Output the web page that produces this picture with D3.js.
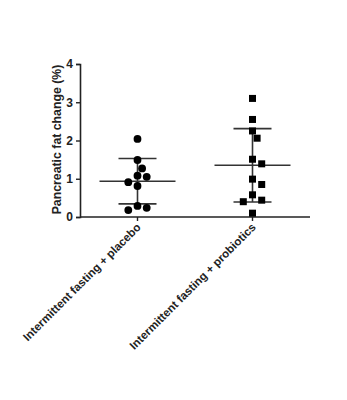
<!DOCTYPE html>
<html>
<head>
<meta charset="utf-8">
<script src="https://cdn.jsdelivr.net/npm/d3@7"></script>
<style>
  body { margin: 0; background: #fff; }
  text { font-family: "Liberation Sans", Arial, sans-serif; }
</style>
</head>
<body>
<div id="chart-area"></div>
<script>
/*
*   dot plot, mean +/- SD
*/
let categories = ["Intermittent fasting + placebo", "Intermittent fasting + probiotics"];
let placebo = [2.04, 1.49, 1.27, 1.08, 1.05, 0.91, 0.81, 0.29, 0.24, 0.18];
let probiotics = [3.10, 2.55, 2.25, 2.06, 1.51, 1.39, 0.99, 0.85, 0.58, 0.44, 0.40, 0.10];
let yTicks = [0, 1, 2, 3, 4];
let yLabelText = "Pancreatic fat change (%)";

let margin = {left: 80, right: 37, top: 64, bottom: 183};
let width = 347 - margin.left - margin.right;
let height = 400 - margin.top - margin.bottom;
let ink = "#222";

let svg = d3.select("#chart-area")
            .append("svg")
            .attr("width", 347)
            .attr("height", 400);

let g = svg.append("g")
            .attr("transform", "translate(" + margin.left + "," + margin.top + ")");

let x = d3.scaleBand()
        .domain(categories)
        .range([0, width])
        .padding(0);

let y = d3.scaleLinear()
        .domain([0, 4])
        .range([height, 0]);

// y axis
let yAxis = d3.axisLeft(y)
            .tickValues(yTicks)
            .tickFormat(d3.format("d"))
            .tickSize(4)
            .tickPadding(3);
let yAxisG = g.append("g").call(yAxis);
yAxisG.select(".domain").attr("stroke", ink).attr("stroke-width", 1.6);
yAxisG.selectAll(".tick line").attr("stroke", ink).attr("stroke-width", 1.4);
yAxisG.selectAll(".tick text")
    .attr("fill", ink)
    .attr("font-size", "12px")
    .attr("font-weight", "bold");

// x axis
let xAxis = d3.axisBottom(x).tickSize(4).tickFormat("");
let xAxisG = g.append("g")
    .attr("transform", "translate(0," + height + ")")
    .call(xAxis);
xAxisG.select(".domain").attr("stroke", ink).attr("stroke-width", 1.6)
    .attr("d", "M0,0H" + width);
xAxisG.selectAll(".tick line").attr("stroke", ink).attr("stroke-width", 1.4);

// x labels, rotated
g.selectAll(".xlab")
    .data(categories)
    .enter()
    .append("text")
    .attr("class", "xlab")
    .attr("transform", function(d){
        return "translate(" + (x(d) + x.bandwidth()/2 + 4) + "," + (height + 11) + ") rotate(-45)";
    })
    .attr("text-anchor", "end")
    .attr("font-size", "11.5px")
    .attr("font-weight", "bold")
    .attr("fill", ink)
    .text(function(d){ return d; });

// y label
g.append("text")
    .attr("x", -(height/2) + 1)
    .attr("y", -19)
    .attr("transform", "rotate(-90)")
    .attr("text-anchor", "middle")
    .attr("font-size", "12.3px")
    .attr("font-weight", "bold")
    .attr("fill", ink)
    .text(yLabelText);

// simple beeswarm: greedy slots left/right of the centre
function swarm(values, step, minDist){
    let placed = [];
    let order = values.map(function(v, i){ return i; })
                      .sort(function(a, b){ return values[b] - values[a]; });
    let offs = [0, 1, -1, 2, -2, 3, -3];
    order.forEach(function(i){
        let py = y(values[i]);
        for (let k = 0; k < offs.length; k++) {
            let px = offs[k] * step;
            let hit = placed.some(function(p){
                return Math.hypot(p.x - px, p.y - py) < minDist;
            });
            if (!hit) { placed.push({x: px, y: py, v: values[i]}); break; }
        }
    });
    return placed;
}

let groups = [
    {name: categories[0], values: placebo, shape: "circle"},
    {name: categories[1], values: probiotics, shape: "square"}
];

groups.forEach(function(grp){
    let cx = x(grp.name) + x.bandwidth()/2;
    let m = d3.mean(grp.values);
    let sd = d3.deviation(grp.values);
    let eg = g.append("g").attr("stroke", "#333").attr("stroke-width", 1.6);

    // mean line
    eg.append("line")
        .attr("x1", cx - 38).attr("x2", cx + 38)
        .attr("y1", y(m)).attr("y2", y(m));
    // sd whisker
    eg.append("line")
        .attr("x1", cx).attr("x2", cx)
        .attr("y1", y(m + sd)).attr("y2", y(m - sd));
    [m + sd, m - sd].forEach(function(v){
        eg.append("line")
            .attr("x1", cx - 19).attr("x2", cx + 19)
            .attr("y1", y(v)).attr("y2", y(v));
    });

    let pts = swarm(grp.values, 4.6, 8.5);
    if (grp.shape == "circle") {
        g.selectAll(null)
            .data(pts)
            .enter()
            .append("circle")
            .attr("cx", function(d){ return cx + d.x; })
            .attr("cy", function(d){ return d.y; })
            .attr("r", 3.9)
            .attr("fill", "#000");
    } else {
        g.selectAll(null)
            .data(pts)
            .enter()
            .append("rect")
            .attr("x", function(d){ return cx + d.x - 3.5; })
            .attr("y", function(d){ return d.y - 3.5; })
            .attr("width", 7)
            .attr("height", 7)
            .attr("fill", "#000");
    }
});
</script>
</body>
</html>
